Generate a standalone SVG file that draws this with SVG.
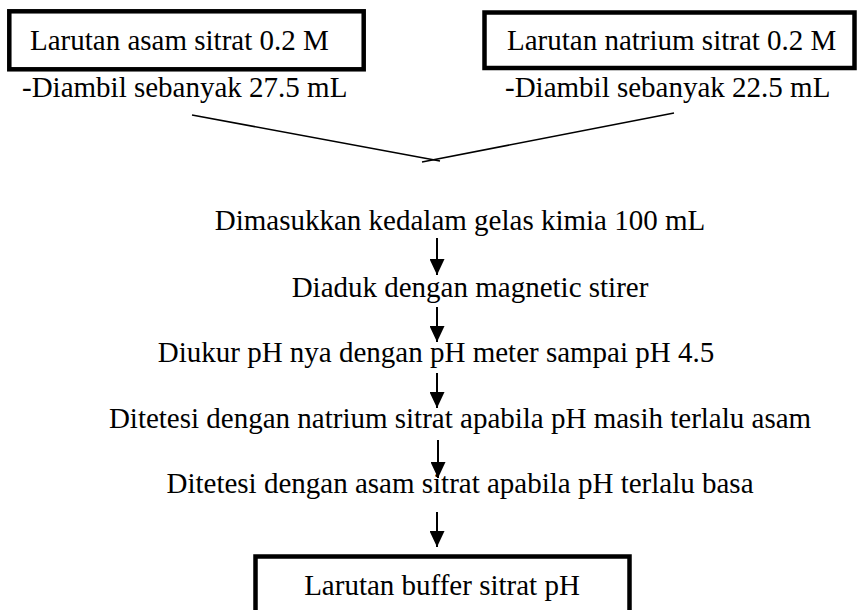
<svg xmlns="http://www.w3.org/2000/svg" width="857" height="610" viewBox="0 0 857 610">
<defs>
<style>
text{font-family:"Liberation Serif","Times New Roman",serif;font-size:29px;fill:#000}
.box{fill:#fff;stroke:#000;stroke-width:4.5}
.ln{stroke:#000;stroke-width:2;fill:none}
.thin{stroke:#000;stroke-width:1.6;fill:none}
</style>
<marker id="ah" markerWidth="16" markerHeight="15" refX="16" refY="7.5" orient="auto" markerUnits="userSpaceOnUse" viewBox="0 0 16 15">
<path d="M0,0 L16,7.5 L0,15 Z" fill="#000"/>
</marker>
</defs>
<rect width="857" height="610" fill="#fff"/>
<g id="node-asam">
<rect class="box" x="9.3" y="11.3" width="354.4" height="58"/>
<text x="30" y="50">Larutan asam sitrat 0.2 M</text>
<text x="22" y="97">-Diambil sebanyak 27.5 mL</text>
</g>
<g id="node-natrium">
<rect class="box" x="484.5" y="12.5" width="370" height="55.5"/>
<text x="507" y="50">Larutan natrium sitrat 0.2 M</text>
<text x="505" y="97">-Diambil sebanyak 22.5 mL</text>
</g>
<g id="step1"><text x="460" y="230" text-anchor="middle">Dimasukkan kedalam gelas kimia 100 mL</text></g>
<g id="step2"><text x="470" y="297" text-anchor="middle">Diaduk dengan magnetic stirer</text></g>
<g id="step3"><text x="436" y="362" text-anchor="middle">Diukur pH nya dengan pH meter sampai pH 4.5</text></g>
<g id="step4"><text x="460" y="428" text-anchor="middle">Ditetesi dengan natrium sitrat apabila pH masih terlalu asam</text></g>
<g id="step5"><text x="460" y="493" text-anchor="middle">Ditetesi dengan asam sitrat apabila pH terlalu basa</text></g>
<g id="node-buffer">
<rect class="box" x="255.5" y="556.5" width="374" height="70"/>
<text x="442" y="595" text-anchor="middle">Larutan buffer sitrat pH</text>
</g>
<g id="connectors">
<line class="thin" x1="192" y1="115" x2="440" y2="161"/>
<line class="thin" x1="674" y1="113" x2="422" y2="162"/>
<line class="ln" x1="437" y1="238" x2="437" y2="275" marker-end="url(#ah)"/>
<line class="ln" x1="437" y1="307" x2="437" y2="342" marker-end="url(#ah)"/>
<line class="ln" x1="437" y1="373" x2="437" y2="408" marker-end="url(#ah)"/>
<line class="ln" x1="438" y1="440" x2="438" y2="478" marker-end="url(#ah)"/>
<line class="ln" x1="437" y1="512" x2="437" y2="547" marker-end="url(#ah)"/>
</g>
</svg>
